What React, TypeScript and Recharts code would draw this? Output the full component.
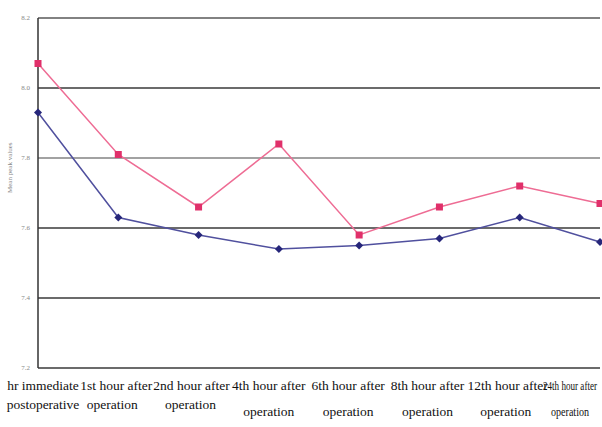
import React from "react";
import {
  LineChart,
  Line,
  XAxis,
  YAxis,
  CartesianGrid,
  ReferenceLine,
} from "recharts";

const categories = [
  "hr immediate|postoperative",
  "1st hour after|operation",
  "2nd hour after|operation",
  "4th hour after|operation",
  "6th hour after|operation",
  "8th hour after|operation",
  "12th hour after|operation",
  "24th hour after|operation",
];
const pinkValues = [8.07, 7.81, 7.66, 7.84, 7.58, 7.66, 7.72, 7.67];
const blueValues = [7.93, 7.63, 7.58, 7.54, 7.55, 7.57, 7.63, 7.56];
const yTicks = [7.2, 7.4, 7.6, 7.8, 8.0, 8.2];

const data = categories.map((c, i) => ({
  name: c,
  pink: pinkValues[i],
  blue: blueValues[i],
}));

const PINK_LINE = "#ee6c94";
const PINK_DOT = "#e0306a";
const BLUE_LINE = "#50509e";
const BLUE_DOT = "#26267a";
const GRID = "#3a3a3a";
const SERIF = "'Liberation Serif', 'Times New Roman', serif";

// label placement tweaks, the original labels don't sit exactly under the points
const line1Dx = [5, -2, -7, -10, -11, -12, -12, -30];
const line2Dx = [5, -6, -8, -10, -11, -12, -14, -30];
const line2Y = [409, 409, 409, 416, 416, 416, 416, 416];

function XTick(props: any) {
  const { x, payload, index } = props;
  const [a, b] = String(payload.value).split("|");
  const last = index === categories.length - 1;
  return (
    <g>
      <text
        x={x + line1Dx[index]}
        y={390}
        textAnchor="middle"
        fontFamily={SERIF}
        fontSize={13.5}
        fill="#111"
        {...(last ? { textLength: 54, lengthAdjust: "spacingAndGlyphs" } : {})}
      >
        {a}
      </text>
      <text
        x={x + line2Dx[index]}
        y={line2Y[index]}
        textAnchor="middle"
        fontFamily={SERIF}
        fontSize={13.5}
        fill="#111"
        {...(last ? { textLength: 38, lengthAdjust: "spacingAndGlyphs" } : {})}
      >
        {b}
      </text>
    </g>
  );
}

function SquareDot(props: any) {
  const { cx, cy } = props;
  if (cx == null || cy == null) return null;
  return <rect x={cx - 3.5} y={cy - 3.5} width={7} height={7} fill={PINK_DOT} />;
}

function DiamondDot(props: any) {
  const { cx, cy } = props;
  if (cx == null || cy == null) return null;
  return (
    <polygon
      points={`${cx},${cy - 4} ${cx + 4},${cy} ${cx},${cy + 4} ${cx - 4},${cy}`}
      fill={BLUE_DOT}
    />
  );
}

export default function App() {
  return (
    <div style={{ position: "absolute", left: 0, top: 0, width: 602, height: 427, background: "#fff" }}>
      <LineChart
        width={602}
        height={427}
        data={data}
        margin={{ top: 18, right: 2, left: 0, bottom: 0 }}
      >
        <CartesianGrid vertical={false} stroke={GRID} strokeWidth={1.5} />
        <ReferenceLine y={7.8} stroke="#b5b5b5" strokeWidth={1.5} />
        <ReferenceLine y={8.2} stroke="#8a8a8a" strokeWidth={1.5} />
        <XAxis
          dataKey="name"
          height={59}
          axisLine={false}
          tickLine={false}
          interval={0}
          tick={<XTick />}
        />
        <YAxis
          width={38}
          domain={[7.2, 8.2]}
          ticks={yTicks}
          tickFormatter={(v) => v.toFixed(1)}
          axisLine={{ stroke: "#333", strokeWidth: 1.5 }}
          tickLine={false}
          tick={{ fontSize: 7, fill: "#888", fontFamily: SERIF }}
          label={{
            value: "Mean peak values",
            angle: -90,
            position: "insideLeft",
            offset: 10,
            style: { fontSize: 7, fill: "#888", fontFamily: SERIF },
          }}
        />
        <Line
          dataKey="pink"
          stroke={PINK_LINE}
          strokeWidth={1.5}
          dot={<SquareDot />}
          isAnimationActive={false}
        />
        <Line
          dataKey="blue"
          stroke={BLUE_LINE}
          strokeWidth={1.5}
          dot={<DiamondDot />}
          isAnimationActive={false}
        />
      </LineChart>
    </div>
  );
}
